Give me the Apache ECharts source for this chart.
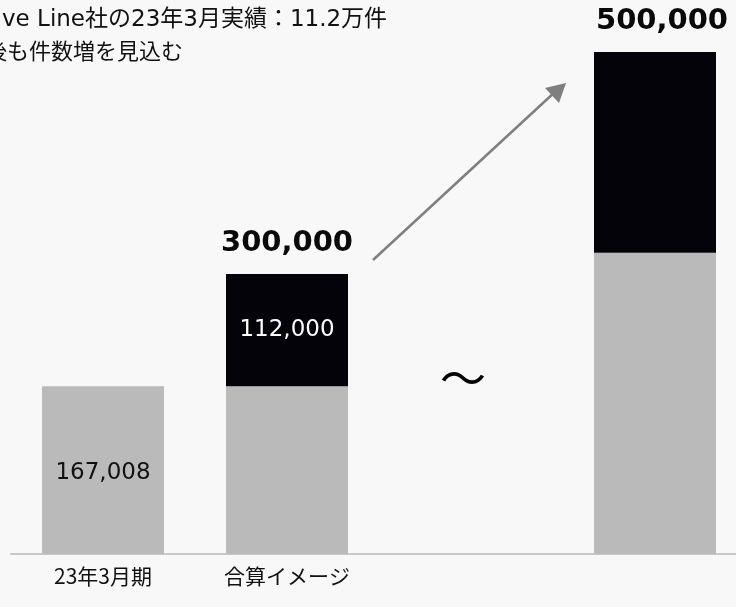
<!DOCTYPE html>
<html>
<head>
<meta charset="utf-8">
<script src="https://cdn.jsdelivr.net/npm/echarts@6/dist/echarts.min.js"></script>
<style>
  html, body { margin: 0; padding: 0; background: #f8f8f8; }
  #chart { width: 736px; height: 607px; }
</style>
</head>
<body>
<div id="chart"></div>
<script>
// Categories (third slot is the gap marked with a tilde)
const categories = ['23年3月期', '合算イメージ', '', ''];
// Existing base volume
const baseValues = [167008, 167008, null, 300000];
// Added volume stacked on top
const addedValues = [null, 112000, null, 200000];
// Headline totals printed above the stacks
const totalLabels = [null, 300000, null, 500000];

const GRAY = '#bababa';
const BLACK = '#040309';
const LATIN_CJK = '"DejaVu Sans", "Noto Sans CJK JP", sans-serif';
const fmt = v => v.toLocaleString('en-US');

const chart = echarts.init(document.getElementById('chart'), null, { renderer: 'canvas' });

const baseData = baseValues.map((v, i) => {
  if (v == null) return null;
  return i === 0
    ? { value: v, label: { show: true, position: 'inside', offset: [0, 3], color: '#111', fontSize: 23, fontFamily: LATIN_CJK, formatter: p => fmt(p.value) } }
    : { value: v };
});
const addedData = addedValues.map((v, i) => {
  if (v == null) return null;
  return i === 1
    ? { value: v, label: { show: true, position: 'inside', color: '#fff', fontSize: 23, fontFamily: LATIN_CJK, formatter: p => fmt(p.value) } }
    : { value: v };
});
// Anchor points at each stack top, carrying the headline total text
const totalPoints = totalLabels.map((t, i) => {
  if (t == null) return null;
  const point = { value: [i, (baseValues[i] || 0) + (addedValues[i] || 0)], total: t };
  if (i === 3) point.label = { offset: [7, 0] };
  return point;
});

chart.setOption({
  backgroundColor: '#f8f8f8',
  animation: false,
  // the last band runs past the right edge of the canvas
  grid: { left: 11, width: 736, top: 52, bottom: 53, containLabel: false, outerBoundsMode: 'none' },
  xAxis: {
    type: 'category',
    data: categories,
    axisLine: { show: true, lineStyle: { color: '#c7c7cf', width: 2 } },
    axisTick: { show: false },
    axisLabel: { color: '#111', fontSize: 21, fontFamily: '"Noto Sans CJK JP", sans-serif', margin: 12 }
  },
  yAxis: { type: 'value', min: 0, max: 500000, show: false, splitLine: { show: false } },
  series: [
    {
      name: 'base', type: 'bar', stack: 'total', barWidth: 122,
      itemStyle: { color: GRAY },
      label: { show: false },
      data: baseData
    },
    {
      name: 'added', type: 'bar', stack: 'total', barWidth: 122,
      itemStyle: { color: BLACK },
      label: { show: false },
      data: addedData
    },
    {
      name: 'totals', type: 'scatter', symbolSize: 0, silent: true,
      itemStyle: { opacity: 1 },
      data: totalPoints,
      label: {
        show: true, position: 'top', distance: 16,
        color: '#0a0a0a', fontSize: 29, fontWeight: 'bold', fontFamily: LATIN_CJK,
        formatter: p => fmt(p.data.total)
      }
    }
  ],
  graphic: [
    {
      type: 'text', left: 2, top: 9,
      style: { text: 've Line社の23年3月実績：11.2万件', fill: '#111', font: '23px ' + LATIN_CJK }
    },
    {
      type: 'text', left: -15, top: 40,
      style: { text: '後も件数増を見込む', fill: '#111', font: '22px "Noto Sans CJK JP", sans-serif' }
    },
    {
      type: 'line', shape: { x1: 373, y1: 260, x2: 556, y2: 91 },
      style: { stroke: '#7f7f7f', lineWidth: 2.5 }
    },
    {
      type: 'polygon', shape: { points: [[566, 83], [545, 88], [559, 103]] },
      style: { fill: '#7f7f7f' }
    },
    {
      type: 'text', x: 463, y: 378,
      style: { text: '〜', fill: '#000', font: '46px "Noto Sans CJK JP", sans-serif', align: 'center', verticalAlign: 'middle' }
    }
  ]
});
</script>
</body>
</html>
